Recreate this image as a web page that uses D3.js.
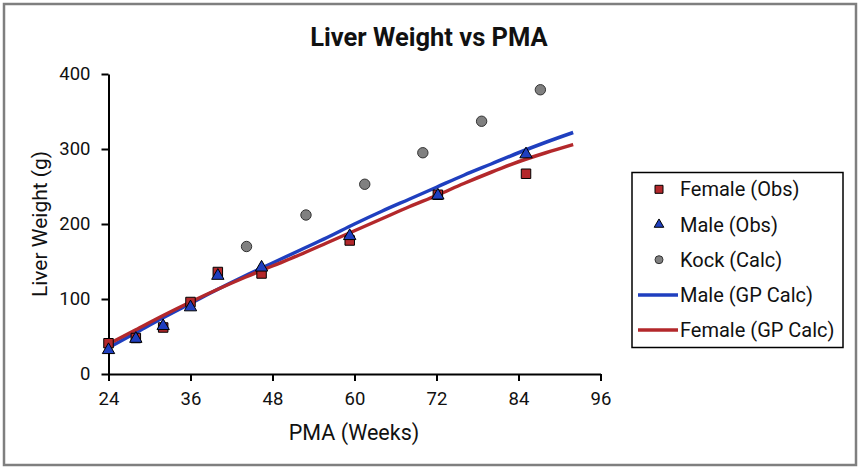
<!DOCTYPE html>
<html>
<head>
<meta charset="utf-8">
<script src="https://cdn.jsdelivr.net/npm/d3@7"></script>
<style>
  body { margin: 0; background: #fff; }
  text { font-family: Roboto, "Liberation Sans", sans-serif; fill: #111; }
</style>
</head>
<body>
<svg id="chart"></svg>
<script>
// observed data (weeks PMA, liver weight g)
const femaleObs = [[24, 41], [28, 48], [32, 62], [36, 96], [40, 136], [46.4, 134], [59.3, 178], [72.2, 239], [85.1, 267]];
const maleObs = [[24, 32], [28, 47], [32, 64], [36, 89], [40, 131], [46.4, 142], [59.3, 184], [72.2, 238], [85.1, 293]];
const kockCalc = [[44.2, 170], [52.9, 212], [61.5, 253], [70, 295], [78.6, 337], [87.2, 379]];

// GP calculated curves
const gpWeeks = [24, 28, 32, 36, 40, 44, 48, 52, 56, 60, 64, 68, 72, 76, 80, 84, 88, 92];
const maleGP = [35, 55, 75, 94, 113, 131, 148, 165, 182, 200, 217, 233, 249, 265, 280, 295, 309, 322];
const femaleGP = [40, 59, 78, 96, 113, 129, 144, 159, 175, 191, 207, 223, 238, 254, 269, 283, 295, 306];

const xTicks = [24, 36, 48, 60, 72, 84, 96];
const yTicks = [0, 100, 200, 300, 400];

const RED = "#b3282b", BLUE = "#1f3fbf", GREY = "#808080";

const svg = d3.select("#chart")
              .attr("width", 862)
              .attr("height", 470);

// outer frame
svg.append("rect")
   .attr("x", 4).attr("y", 4)
   .attr("width", 852).attr("height", 461)
   .attr("fill", "#fff")
   .attr("stroke", "#7f7f7f")
   .attr("stroke-width", 2.5);

const x = d3.scaleLinear().domain([24, 96]).range([108.5, 600.5]);
const y = d3.scaleLinear().domain([0, 400]).range([374, 74]);

svg.append("text")
   .attr("x", 429)
   .attr("y", 46)
   .attr("text-anchor", "middle")
   .attr("font-size", "25.5px")
   .attr("font-weight", "bold")
   .text("Liver Weight vs PMA");

// axes
const xAxis = svg.append("g")
   .attr("transform", "translate(0,374)")
   .call(d3.axisBottom(x).tickValues(xTicks).tickSize(7).tickPadding(11).tickSizeOuter(0));
const yAxis = svg.append("g")
   .attr("transform", "translate(108.5,0)")
   .call(d3.axisLeft(y).tickValues(yTicks).tickSize(7).tickPadding(11).tickSizeOuter(0));

[xAxis, yAxis].forEach(g => {
  g.select(".domain").attr("stroke", "#000").attr("stroke-width", 2);
  g.selectAll(".tick line").attr("stroke", "#000").attr("stroke-width", 2);
  g.selectAll(".tick text").attr("font-size", "18.5px").attr("fill", "#111")
   .attr("font-family", "Roboto, sans-serif");
});

svg.append("text")
   .attr("x", 354)
   .attr("y", 440)
   .attr("text-anchor", "middle")
   .attr("font-size", "21.5px")
   .text("PMA (Weeks)");

svg.append("text")
   .attr("transform", "translate(47,224) rotate(-90)")
   .attr("text-anchor", "middle")
   .attr("font-size", "21px")
   .text("Liver Weight (g)");

// GP lines
const line = d3.line().x(d => x(d[0])).y(d => y(d[1])).curve(d3.curveMonotoneX);

svg.append("path")
   .datum(gpWeeks.map((w, i) => [w, maleGP[i]]))
   .attr("d", line)
   .attr("fill", "none")
   .attr("stroke", BLUE)
   .attr("stroke-width", 3.5);

svg.append("path")
   .datum(gpWeeks.map((w, i) => [w, femaleGP[i]]))
   .attr("d", line)
   .attr("fill", "none")
   .attr("stroke", RED)
   .attr("stroke-width", 3.5);

const sq = d3.symbol().type(d3.symbolSquare).size(90);
const tri = d3.symbol().type(d3.symbolTriangle).size(66);

svg.selectAll(".fem")
   .data(femaleObs)
   .enter().append("path")
   .attr("class", "fem")
   .attr("transform", d => `translate(${x(d[0])},${y(d[1])})`)
   .attr("d", sq)
   .attr("fill", RED)
   .attr("stroke", "#000")
   .attr("stroke-width", 1);

svg.selectAll(".male")
   .data(maleObs)
   .enter().append("path")
   .attr("class", "male")
   .attr("transform", d => `translate(${x(d[0])},${y(d[1])})`)
   .attr("d", tri)
   .attr("fill", BLUE)
   .attr("stroke", "#000")
   .attr("stroke-width", 1);

svg.selectAll(".kock")
   .data(kockCalc)
   .enter().append("circle")
   .attr("class", "kock")
   .attr("cx", d => x(d[0]))
   .attr("cy", d => y(d[1]))
   .attr("r", 5.2)
   .attr("fill", GREY)
   .attr("stroke", "#333")
   .attr("stroke-width", 1);

// legend
const legend = svg.append("g");
legend.append("rect")
   .attr("x", 632).attr("y", 172.5)
   .attr("width", 211).attr("height", 175)
   .attr("fill", "#fff")
   .attr("stroke", "#000")
   .attr("stroke-width", 1.5);

const items = [
  { label: "Female (Obs)", kind: "sq" },
  { label: "Male (Obs)", kind: "tri" },
  { label: "Kock (Calc)", kind: "circ" },
  { label: "Male (GP Calc)", kind: "line", color: BLUE },
  { label: "Female (GP Calc)", kind: "line", color: RED }
];

items.forEach((it, i) => {
  const cy = 189.3 + i * 35.2;
  if (it.kind === "sq") {
    legend.append("path").attr("transform", `translate(659,${cy})`)
      .attr("d", d3.symbol().type(d3.symbolSquare).size(64)).attr("fill", RED).attr("stroke", "#000");
  } else if (it.kind === "tri") {
    legend.append("path").attr("transform", `translate(659,${cy})`)
      .attr("d", d3.symbol().type(d3.symbolTriangle).size(40)).attr("fill", BLUE).attr("stroke", "#000");
  } else if (it.kind === "circ") {
    legend.append("circle").attr("cx", 659).attr("cy", cy).attr("r", 4)
      .attr("fill", GREY).attr("stroke", "#333");
  } else {
    legend.append("line").attr("x1", 638).attr("x2", 678).attr("y1", cy).attr("y2", cy)
      .attr("stroke", it.color).attr("stroke-width", 3.5);
  }
  legend.append("text")
    .attr("x", 680)
    .attr("y", cy + 7)
    .attr("font-size", "20px")
    .text(it.label);
});
</script>
</body>
</html>
